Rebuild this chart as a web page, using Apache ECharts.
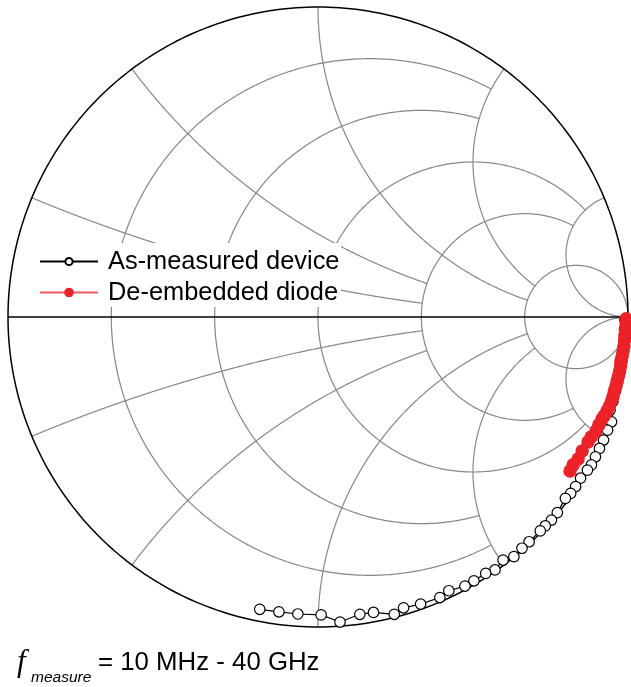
<!DOCTYPE html>
<html>
<head>
<meta charset="utf-8">
<script src="https://cdn.jsdelivr.net/npm/echarts@6/dist/echarts.min.js"></script>
<style>
  html, body { margin: 0; padding: 0; background: #fff; }
  #chart { width: 631px; height: 687px; }
</style>
</head>
<body>
<div id="chart"></div>
<script>
// Reflection coefficient of the as-measured device (real / imaginary part), low to high frequency
const measuredRe = [0.990, 0.989, 0.987, 0.984, 0.980, 0.974, 0.967, 0.960, 0.951, 0.942,
  0.947, 0.934, 0.921, 0.908, 0.895, 0.882, 0.869, 0.847, 0.831, 0.815,
  0.798, 0.772, 0.753, 0.733, 0.717, 0.681, 0.658, 0.632, 0.597, 0.571,
  0.541, 0.503, 0.474, 0.422, 0.393, 0.331, 0.276, 0.246, 0.179, 0.135,
  0.071, 0.010, -0.065, -0.126, -0.188];
const measuredIm = [-0.009, -0.040, -0.076, -0.107, -0.143, -0.174, -0.209, -0.237, -0.273, -0.301,
  -0.338, -0.365, -0.397, -0.424, -0.451, -0.477, -0.494, -0.520, -0.547, -0.569,
  -0.585, -0.631, -0.655, -0.674, -0.690, -0.725, -0.746, -0.773, -0.784, -0.816,
  -0.827, -0.851, -0.868, -0.883, -0.905, -0.926, -0.938, -0.959, -0.953, -0.959,
  -0.984, -0.961, -0.958, -0.951, -0.943];

// Reflection coefficient of the de-embedded diode
const diodeRe = [0.994, 0.994, 0.992, 0.990, 0.989, 0.987, 0.984, 0.981, 0.977, 0.976,
  0.973, 0.969, 0.965, 0.961, 0.956, 0.952, 0.947, 0.940, 0.932, 0.923,
  0.916, 0.906, 0.897, 0.881, 0.871, 0.852, 0.839, 0.823, 0.813];
const diodeIm = [-0.006, -0.023, -0.042, -0.058, -0.074, -0.094, -0.110, -0.126, -0.142, -0.158,
  -0.174, -0.190, -0.206, -0.223, -0.239, -0.255, -0.271, -0.287, -0.303, -0.319,
  -0.329, -0.348, -0.368, -0.387, -0.403, -0.432, -0.458, -0.477, -0.497];

// Smith chart grid: normalised resistance circles / reactance arcs and where each one stops
const resistanceCircles = [0.2, 0.5, 1, 2, 5];
const resistanceStopX   = [2, 2, 5, 5, Infinity];
const reactanceArcs     = [0.2, 0.5, 1, 2, 5];
const reactanceStopR    = [2, 2, 5, 5, Infinity];

const seriesNames = ['As-measured device', 'De-embedded diode'];
const freqSymbol = 'f';
const freqSub = 'measure';
const freqRange = '= 10 MHz - 40 GHz';

// z = r + jx  ->  Gamma = (z - 1) / (z + 1)
function gamma(r, x) {
  const d = (r + 1) * (r + 1) + x * x;
  return [(r * r + x * x - 1) / d, (2 * x) / d];
}
const STEPS = 360;
function resistancePath(r, xStop) {
  const a = r + 1;
  const tMax = isFinite(xStop) ? Math.atan(xStop / a) : Math.PI / 2;
  const pts = [];
  for (let i = 0; i <= STEPS; i++) {
    const t = -tMax + (2 * tMax * i) / STEPS;
    if (Math.abs(Math.PI / 2 - Math.abs(t)) < 1e-9) pts.push([1, 0]);
    else pts.push(gamma(r, a * Math.tan(t)));
  }
  return pts;
}
function reactancePath(x, rStop) {
  const ax = Math.abs(x);
  const s0 = Math.atan(ax);
  const s1 = isFinite(rStop) ? Math.atan(ax / (rStop + 1)) : 0;
  const pts = [];
  for (let i = 0; i <= STEPS; i++) {
    const s = s0 + ((s1 - s0) * i) / STEPS;
    if (s <= 1e-12) pts.push([1, 0]);
    else pts.push(gamma(ax / Math.tan(s) - 1, x));
  }
  return pts;
}

const GRID_COLOR = '#878787';
const gridLines = [];
resistanceCircles.forEach((r, i) => {
  gridLines.push({ pts: resistancePath(r, resistanceStopX[i]), color: GRID_COLOR, width: 1.2 });
});
reactanceArcs.forEach((x, i) => {
  gridLines.push({ pts: reactancePath(x, reactanceStopR[i]), color: GRID_COLOR, width: 1.2 });
  gridLines.push({ pts: reactancePath(-x, reactanceStopR[i]), color: GRID_COLOR, width: 1.2 });
});
// outer rim (r = 0) and real axis (x = 0)
gridLines.push({ pts: resistancePath(0, Infinity), color: '#000', width: 1.5 });
gridLines.push({ pts: [[-1, 0], [1, 0]], color: '#000', width: 1.5 });

const measuredData = measuredRe.map((v, i) => [v, measuredIm[i]]);
const diodeData = diodeRe.map((v, i) => [v, diodeIm[i]]);

const chart = echarts.init(document.getElementById('chart'), null, { renderer: 'canvas' });

const legendText = {
  fontSize: 25.4,
  fontFamily: '"Liberation Sans", Arial, sans-serif',
  color: '#000',
  padding: [0, 0, 0, 5]
};

chart.setOption({
  animation: false,
  backgroundColor: '#fff',
  grid: { left: 8, top: 7, width: 620, height: 620, containLabel: false },
  xAxis: { type: 'value', min: -1, max: 1, show: false },
  yAxis: { type: 'value', min: -1, max: 1, show: false },
  legend: [
    {
      data: [seriesNames[0]], left: 39, top: 249, padding: 0, itemGap: 0,
      itemWidth: 58, itemHeight: 9, textStyle: legendText, z: 60, selectedMode: false
    },
    {
      data: [seriesNames[1]], left: 39, top: 280, padding: 0, itemGap: 0,
      itemWidth: 58, itemHeight: 12, textStyle: legendText, z: 60, selectedMode: false
    }
  ],
  graphic: [
    { type: 'rect', z: 50, silent: true,
      shape: { x: 31, y: 243, width: 310, height: 64 }, style: { fill: '#fff' } },
    { type: 'text', z: 50, silent: true,
      style: { text: freqSymbol, x: 17, y: 663, verticalAlign: 'middle',
        font: 'italic 31px "Liberation Serif", "Times New Roman", serif', fill: '#000' } },
    { type: 'text', z: 50, silent: true,
      style: { text: freqSub, x: 31, y: 678, verticalAlign: 'middle',
        font: 'italic 15.5px "Liberation Sans", Arial, sans-serif', fill: '#000' } },
    { type: 'text', z: 50, silent: true,
      style: { text: freqRange, x: 98, y: 663, verticalAlign: 'middle',
        font: '25.8px "Liberation Sans", Arial, sans-serif', fill: '#000' } }
  ],
  series: [
    {
      type: 'custom',
      coordinateSystem: 'cartesian2d',
      silent: true,
      z: 1,
      clip: false,
      encode: { x: 0, y: 1 },
      data: gridLines.map(() => [0, 0]),
      renderItem(params, api) {
        const g = gridLines[params.dataIndex];
        return {
          type: 'polyline',
          shape: { points: g.pts.map((p) => api.coord(p)) },
          style: { fill: 'none', stroke: g.color, lineWidth: g.width }
        };
      }
    },
    {
      name: seriesNames[0],
      type: 'line',
      data: measuredData,
      z: 3,
      symbol: 'circle',
      symbolSize: 10.5,
      showAllSymbol: true,
      lineStyle: { color: '#000', width: 1.2 },
      itemStyle: { color: '#fff', borderColor: '#000', borderWidth: 1.2 }
    },
    {
      name: seriesNames[1],
      type: 'line',
      data: diodeData,
      z: 4,
      symbol: 'circle',
      symbolSize: 13.5,
      showAllSymbol: true,
      lineStyle: { color: '#f05a5c', width: 1.5 },
      itemStyle: { color: '#ec2229' }
    }
  ]
});
</script>
</body>
</html>
